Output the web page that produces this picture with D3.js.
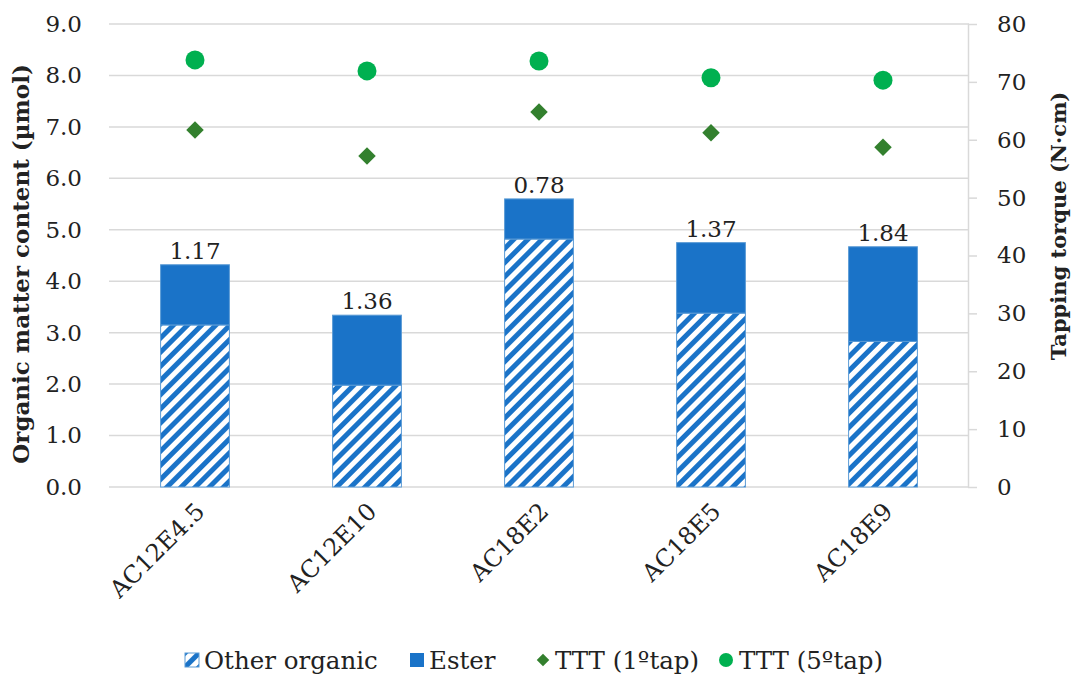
<!DOCTYPE html>
<html>
<head>
<meta charset="utf-8">
<script src="https://cdn.jsdelivr.net/npm/d3@7"></script>
<style>
  html, body { margin: 0; padding: 0; background: #fff; }
  svg { display: block; font-family: "DejaVu Serif", serif; }
</style>
</head>
<body>
<svg id="chart" width="1079" height="677"></svg>
<script>
const categories = ["AC12E4.5", "AC12E10", "AC18E2", "AC18E5", "AC18E9"];
const otherOrganic = [3.15, 1.98, 4.82, 3.38, 2.83];
const ester = [1.17, 1.36, 0.78, 1.37, 1.84];
const ttt1 = [61.7, 57.2, 64.8, 61.2, 58.7];
const ttt5 = [73.8, 71.9, 73.6, 70.7, 70.3];
const leftTicks = [0, 1, 2, 3, 4, 5, 6, 7, 8, 9];
const rightTicks = [0, 10, 20, 30, 40, 50, 60, 70, 80];
const seriesNames = ["Other organic", "Ester", "TTT (1ºtap)", "TTT (5ºtap)"];

const blue = "#1A73C8";
const edge = "#5B9BD5";
const dgreen = "#33802E";
const lgreen = "#00B050";
const grid = "#D9D9D9";
const textCol = "#222";

const svg = d3.select("#chart");
const X0 = 109, X1 = 969, Y0 = 487, Y1 = 24;

const x = d3.scaleBand().domain(categories).range([X0, X1]).paddingInner(0.6).paddingOuter(0.3);
const xc = d3.scaleBand().domain(categories).range([X0, X1]).padding(0);
const yL = d3.scaleLinear().domain([0, 9]).range([Y0, Y1]);
const yR = d3.scaleLinear().domain([0, 80]).range([Y0, Y1]);

// hatch pattern
const defs = svg.append("defs");
const pat = defs.append("pattern").attr("id", "hatch").attr("patternUnits", "userSpaceOnUse")
  .attr("width", 10).attr("height", 10).attr("patternTransform", "rotate(45)");
pat.append("rect").attr("width", 10).attr("height", 10).attr("fill", "#fff");
pat.append("rect").attr("x", 0).attr("width", 5).attr("height", 10).attr("fill", blue);

// gridlines
svg.append("g").selectAll("line").data(leftTicks.filter(d => d > 0)).join("line")
  .attr("x1", X0).attr("x2", X1).attr("y1", d => yL(d)).attr("y2", d => yL(d))
  .attr("stroke", grid).attr("stroke-width", 1.5);

// left axis labels
const gL = svg.append("g").attr("transform", `translate(${X0},0)`)
  .call(d3.axisLeft(yL).tickValues(leftTicks).tickFormat(d3.format(".1f")).tickSize(0).tickPadding(27));
gL.select(".domain").remove();
gL.selectAll("text").attr("font-size", 23).attr("fill", textCol).attr("font-family", "DejaVu Serif");

// right axis
const gR = svg.append("g").attr("transform", `translate(${X1 - 1},0)`)
  .call(d3.axisRight(yR).tickValues(rightTicks).tickSize(9).tickSizeOuter(0).tickPadding(20));
gR.select(".domain").attr("stroke", grid).attr("stroke-width", 1.5);
gR.selectAll(".tick line").attr("stroke", grid).attr("stroke-width", 1.5);
gR.selectAll("text").attr("font-size", 23).attr("fill", textCol).attr("font-family", "DejaVu Serif");

// bottom axis line
svg.append("line").attr("x1", X0).attr("x2", X1).attr("y1", Y0).attr("y2", Y0)
  .attr("stroke", grid).attr("stroke-width", 1.5);

// bars
const bars = svg.append("g");
bars.selectAll("rect.oth").data(categories).join("rect").attr("class", "oth")
  .attr("x", d => x(d)).attr("width", x.bandwidth())
  .attr("y", (d, i) => yL(otherOrganic[i])).attr("height", (d, i) => yL(0) - yL(otherOrganic[i]))
  .attr("fill", "url(#hatch)").attr("stroke", edge).attr("stroke-width", 1);
bars.selectAll("rect.est").data(categories).join("rect").attr("class", "est")
  .attr("x", d => x(d)).attr("width", x.bandwidth())
  .attr("y", (d, i) => yL(otherOrganic[i] + ester[i])).attr("height", (d, i) => yL(otherOrganic[i]) - yL(otherOrganic[i] + ester[i]))
  .attr("fill", blue).attr("stroke", edge).attr("stroke-width", 1);

// value labels
svg.append("g").selectAll("text").data(categories).join("text")
  .attr("x", d => x(d) + x.bandwidth() / 2)
  .attr("y", (d, i) => yL(otherOrganic[i] + ester[i]) - 6)
  .attr("text-anchor", "middle").attr("font-size", 23).attr("fill", textCol)
  .text((d, i) => ester[i].toFixed(2));

// markers
const diamond = d3.symbol().type(d3.symbolDiamond2).size(195);
svg.append("g").selectAll("path").data(categories).join("path")
  .attr("d", diamond)
  .attr("transform", (d, i) => `translate(${xc(d) + xc.bandwidth() / 2},${yR(ttt1[i])})`)
  .attr("fill", dgreen);
svg.append("g").selectAll("circle").data(categories).join("circle")
  .attr("cx", d => xc(d) + xc.bandwidth() / 2).attr("cy", (d, i) => yR(ttt5[i])).attr("r", 9.5)
  .attr("fill", lgreen);

// category labels
svg.append("g").selectAll("text").data(categories).join("text")
  .attr("transform", d => `translate(${xc(d) + xc.bandwidth() / 2 + 11},${513}) rotate(-45)`)
  .attr("text-anchor", "end").attr("font-size", 24).attr("fill", textCol)
  .text(d => d);

// axis titles
svg.append("text").attr("transform", `translate(29,264) rotate(-90)`)
  .attr("text-anchor", "middle").attr("font-size", 23).attr("font-weight", "bold").attr("fill", textCol)
  .text("Organic matter content (µmol)");
svg.append("text").attr("transform", `translate(1066,226) rotate(-90)`)
  .attr("text-anchor", "middle").attr("font-size", 21).attr("font-weight", "bold").attr("fill", textCol)
  .text("Tapping torque (N·cm)");

// legend
const lg = svg.append("g");
const ly = 660;
const legendPos = [185, 410, 536, 717];
lg.append("rect").attr("x", legendPos[0]).attr("y", ly - 7).attr("width", 14).attr("height", 14)
  .attr("fill", "url(#hatch)").attr("stroke", edge);
lg.append("rect").attr("x", legendPos[1]).attr("y", ly - 7).attr("width", 14).attr("height", 14).attr("fill", blue);
lg.append("path").attr("d", d3.symbol().type(d3.symbolDiamond2).size(100))
  .attr("transform", `translate(${legendPos[2] + 7},${ly})`).attr("fill", dgreen);
lg.append("circle").attr("cx", legendPos[3] + 9).attr("cy", ly).attr("r", 7).attr("fill", lgreen);
lg.selectAll("text").data(seriesNames).join("text")
  .attr("x", (d, i) => legendPos[i] + (i === 3 ? 22 : 19)).attr("y", ly + 9)
  .attr("font-size", 24.5).attr("fill", textCol).text(d => d);
</script>
</body>
</html>
